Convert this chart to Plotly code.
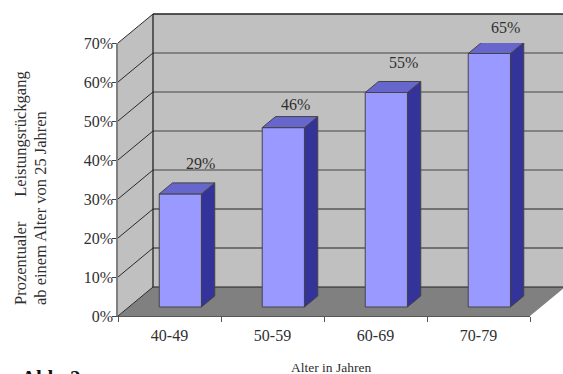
import plotly.graph_objects as go

# Chart values
age_groups = ["40-49", "50-59", "60-69", "70-79"]
decline_pct = [29, 46, 55, 65]
pct_ticks = [0, 10, 20, 30, 40, 50, 60, 70]

W, H = 563, 374
FONT = "Liberation Serif"
TEXT = "#2f2f2f"

# Plot box on the page and its scale
BOX_LEFT, BOX_RIGHT = 118, 530
BOX_BOTTOM, BOX_TOP = 316, 43
PX_PER_GROUP = (BOX_RIGHT - BOX_LEFT) / len(age_groups)
PX_PER_PCT = (BOX_BOTTOM - BOX_TOP) / 70

# Oblique projection: depth of the whole chart box, in axis units
BOX_DX = 35 / PX_PER_GROUP
BOX_DY = 29 / PX_PER_PCT
WALL_TOP = 70

# Where each column sits along the depth of the box (fractions of the depth)
DEPTH_FRONT = 0.31
DEPTH_BACK = 0.69
BAR_WIDTH = 0.41


def project(x, y, depth):
    return x + depth * BOX_DX, y + depth * BOX_DY


def face(points, color, line="#444444", line_width=1, axes=("x", "y")):
    xs, ys = zip(*points)
    return go.Scatter(
        x=list(xs) + [xs[0]], y=list(ys) + [ys[0]], mode="lines", fill="toself",
        fillcolor=color, line=dict(color=line, width=line_width),
        xaxis=axes[0], yaxis=axes[1], hoverinfo="skip", showlegend=False,
    )


def segment(x0, y0, x1, y1, color, width):
    return go.Scatter(
        x=[x0, x1], y=[y0, y1], mode="lines", line=dict(color=color, width=width),
        xaxis="x", yaxis="y", hoverinfo="skip", showlegend=False,
    )


fig = go.Figure()
n = len(age_groups)

# Walls and floor of the box live on a hidden full-page subplot
fig.add_trace(face([project(0, WALL_TOP, 1), project(n, WALL_TOP, 1),
                    project(n, 0, 1), project(0, 0, 1)], "#c0c0c0", "#c0c0c0", 0))
fig.add_trace(face([project(0, 0, 0), project(0, 0, 1),
                    project(0, WALL_TOP, 1), project(0, WALL_TOP, 0)], "#c0c0c0", "#c0c0c0", 0))
fig.add_trace(face([project(0, 0, 0), project(n, 0, 0),
                    project(n, 0, 1), project(0, 0, 1)], "#808080", "#808080", 0))

# Gridlines running along the side wall and across the back wall
for t in pct_ticks:
    xa, ya = project(0, t, 0)
    xb, yb = project(0, t, 1)
    xc, yc = project(n, t, 1)
    fig.add_trace(segment(xa, ya, xb, yb, "#2a2a2a", 1))
    dark = t <= 20 or t == 70
    fig.add_trace(segment(xb, yb, xc, yc, "#222222" if dark else "#6e6e6e",
                          1.6 if t == 70 else (1 if dark else 1.5)))
xb0, yb0 = project(0, 0, 1)
xb1, yb1 = project(0, WALL_TOP, 1)
fig.add_trace(segment(xb0, yb0, xb1, yb1, "#222222", 1.3))

# Caption below the chart, running off the lower page edge
fig.add_trace(go.Scatter(
    x=[(21 - BOX_LEFT) / PX_PER_GROUP], y=[(BOX_BOTTOM - 369) / PX_PER_PCT],
    mode="text", text=["<b>Abb. 2</b>"], textposition="bottom right",
    textfont=dict(family=FONT, size=21, color="#111111"),
    xaxis="x", yaxis="y", cliponaxis=False, hoverinfo="skip", showlegend=False,
))

# Column front faces: real bars on the visible axes, raised to their floor position
front_x = [project(i + 0.5, 0, DEPTH_FRONT)[0] for i in range(n)]
front_base = project(0, 0, DEPTH_FRONT)[1]
fig.add_trace(go.Bar(
    x=front_x, y=decline_pct, base=front_base, width=BAR_WIDTH, xaxis="x2", yaxis="y2",
    marker=dict(color="#9999ff", line=dict(color="#444444", width=1)),
    hoverinfo="skip", showlegend=False,
))

# Column top and side faces
for i, v in enumerate(decline_pct):
    left = i + 0.5 - BAR_WIDTH / 2
    right = i + 0.5 + BAR_WIDTH / 2
    fig.add_trace(face([project(right, 0, DEPTH_FRONT), project(right, 0, DEPTH_BACK),
                        project(right, v, DEPTH_BACK), project(right, v, DEPTH_FRONT)],
                       "#333399", axes=("x2", "y2")))
    fig.add_trace(face([project(left, v, DEPTH_FRONT), project(right, v, DEPTH_FRONT),
                        project(right, v, DEPTH_BACK), project(left, v, DEPTH_BACK)],
                       "#6666cc", axes=("x2", "y2")))

# Value labels above the columns
label_shift = [(20, 30), (12, 23), (17, 30), (16, 26)]
annotations = [
    dict(x=fx, y=front_base + v, xref="x2", yref="y2", text=f"{v}%", showarrow=False,
         xshift=sx, yshift=sy, font=dict(family=FONT, size=16, color=TEXT))
    for fx, v, (sx, sy) in zip(front_x, decline_pct, label_shift)
]

# Axis titles
paper = dict(xref="paper", yref="paper", showarrow=False)
annotations += [
    dict(x=20 / W, y=1 - 307 / H,
         text="Prozentualer\u00a0\u00a0\u00a0\u00a0\u00a0\u00a0Leistungsrückgang",
         textangle=-90, xanchor="center", yanchor="bottom",
         font=dict(family=FONT, size=16.5, color=TEXT), **paper),
    dict(x=40 / W, y=1 - 307 / H, text="ab einem Alter von 25 Jahren",
         textangle=-90, xanchor="center", yanchor="bottom",
         font=dict(family=FONT, size=16.5, color=TEXT), **paper),
    dict(x=331 / W, y=1 - 367 / H, text="Alter in Jahren", xanchor="center", yanchor="middle",
         font=dict(family=FONT, size=13.5, color=TEXT), **paper),
]

fig.update_layout(
    width=W, height=H, margin=dict(l=0, r=0, t=0, b=0, autoexpand=False),
    paper_bgcolor="white", plot_bgcolor="rgba(0,0,0,0)",
    showlegend=False, annotations=annotations,
    font=dict(family=FONT, color=TEXT),
    # Hidden page-wide axes sharing the same units as the visible ones
    xaxis=dict(
        domain=[0, 1], fixedrange=True, visible=False, automargin=False,
        range=[-BOX_LEFT / PX_PER_GROUP, (W - BOX_LEFT) / PX_PER_GROUP],
    ),
    yaxis=dict(
        domain=[0, 1], fixedrange=True, visible=False, automargin=False,
        range=[(BOX_BOTTOM - H) / PX_PER_PCT, BOX_BOTTOM / PX_PER_PCT],
    ),
    xaxis2=dict(
        domain=[BOX_LEFT / W, BOX_RIGHT / W], range=[0, n], fixedrange=True, anchor="y2",
        automargin=False,
        tickvals=[i + 0.5 for i in range(n)], ticktext=age_groups, ticklabelstandoff=5,
        ticks="", ticklen=0, tickfont=dict(family=FONT, size=16, color=TEXT),
        showgrid=False, zeroline=False, showline=True, linecolor="#555555", linewidth=1,
        minor=dict(tickvals=list(range(n + 1)), ticks="outside", ticklen=5,
                   tickcolor="#555555", tickwidth=1, showgrid=False),
    ),
    yaxis2=dict(
        domain=[1 - BOX_BOTTOM / H, 1 - BOX_TOP / H], range=[0, 70], fixedrange=True, anchor="x2",
        automargin=False,
        tickvals=pct_ticks, ticktext=[f"{t}%" for t in pct_ticks], ticks="outside", ticklen=4,
        ticklabelstandoff=-4,
        tickcolor="#444444", tickwidth=1, tickfont=dict(family=FONT, size=16, color=TEXT),
        showgrid=False, zeroline=False, showline=True, linecolor="#808080", linewidth=1.5,
    ),
)

fig.write_html("out.html")
